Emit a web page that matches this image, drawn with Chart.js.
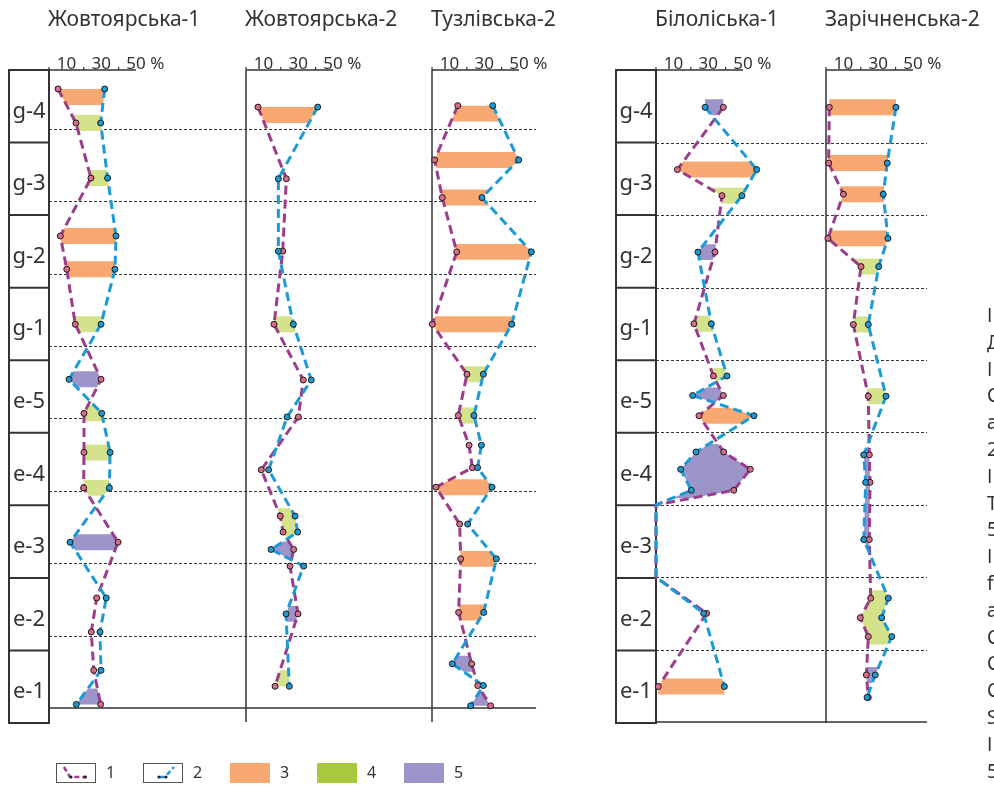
<!DOCTYPE html>
<html>
<head>
<meta charset="utf-8">
<script src="https://cdn.jsdelivr.net/npm/chart.js@4.4.1/dist/chart.umd.min.js"></script>
<style>
  html, body { margin: 0; padding: 0; background: #fff; }
  body { width: 994px; height: 787px; overflow: hidden; position: relative;
         font-family: "Noto Sans", "Open Sans", sans-serif; color: #333; }
  #chart { position: absolute; left: 0; top: 0; }
  .title { position: absolute; top: 8px; font-size: 21px; line-height: 21px; white-space: nowrap; }
  .layer { position: absolute; width: 40px; font-size: 22px; line-height: 22px; text-align: center; white-space: nowrap; }
  .legend-box { position: absolute; top: 763px; width: 40px; height: 20px; box-sizing: border-box; }
  .legend-box.framed { border: 1px solid #555; }
  .legend-text { position: absolute; top: 764px; font-size: 16px; line-height: 16px; }
  .caption { position: absolute; left: 987px; top: 302px; font-size: 19px; line-height: 26.8px; white-space: pre; }
</style>
</head>
<body>
<canvas id="chart" width="994" height="787"></canvas>
<div class="caption">І
Д
І
С
а
2
І
Т
5
І
f
а
С
С
С
S
І
5</div>
<script>
// ---------------- data ----------------
// Layers of the section, top to bottom
const layers = ['g-4', 'g-3', 'g-2', 'g-1', 'e-5', 'e-4', 'e-3', 'e-2', 'e-1'];
const axisLabels = [10, 30, 50];
const axisMinor = [0, 20, 40];
const legendKeys = ['1', '2', '3', '4', '5'];

// Sample level = height above the base of layer e-1, in layer thicknesses.
// Series 1 and 2 are percentages; fills are [first sample, last sample, class 3|4|5].

// Жовтоярська-1
const zh1Levels  = [8.55, 8.08, 7.32, 6.52, 6.06, 5.30, 4.54, 4.07, 3.53, 3.04, 2.29, 1.52, 1.05, 0.52, 0.05];
const zh1Series1 = [5.2, 15.5, 24.1, 6.5, 10.2, 15.1, 29.9, 20.1, 20.1, 19.9, 39.7, 27.4, 24.3, 25.7, 29.7];
const zh1Series2 = [32.0, 29.7, 33.7, 38.5, 37.9, 29.9, 11.5, 30.3, 35.1, 34.7, 12.1, 32.9, 29.3, 29.9, 15.7];
const zh1Fills   = [[0,0,3],[1,1,4],[2,2,4],[3,3,3],[4,4,3],[5,5,4],[6,6,5],[7,7,4],[8,8,4],[9,9,4],[10,10,5],[14,14,5]];

// Жовтоярська-2
const zh2Levels  = [8.30, 7.31, 6.31, 5.30, 4.53, 4.02, 3.29, 2.65, 2.43, 2.19, 1.96, 1.30, 0.30];
const zh2Series1 = [6.9, 23.2, 21.1, 16.1, 32.9, 30.1, 8.8, 19.7, 21.3, 27.4, 25.3, 29.9, 16.7];
const zh2Series2 = [41.2, 18.6, 18.6, 27.2, 37.5, 23.6, 13.0, 28.2, 29.7, 14.4, 33.1, 23.0, 24.9];
const zh2Fills   = [[0,0,3],[3,3,4],[7,7,4],[8,8,4],[9,9,5],[11,11,5],[12,12,4]];

// Тузлівська-2
const tz2Levels  = [8.32, 7.57, 7.05, 6.30, 5.30, 4.61, 4.04, 3.63, 3.32, 3.05, 2.54, 2.06, 1.32, 0.61, 0.31, 0.03];
const tz2Series1 = [14.8, 1.5, 5.9, 14.2, 0.2, 20.1, 15.1, 21.3, 23.2, 2.3, 15.9, 16.5, 15.3, 22.8, 26.3, 33.7];
const tz2Series2 = [34.9, 49.8, 28.7, 57.1, 45.8, 29.5, 24.1, 28.4, 26.2, 34.5, 20.5, 37.0, 29.7, 11.7, 29.5, 22.2];
const tz2Fills   = [[0,0,3],[1,1,3],[2,2,3],[3,3,3],[4,4,3],[5,5,4],[6,6,4],[9,9,3],[11,11,3],[12,12,3],[13,13,5],[15,15,5]];

// Білоліська-1
const bl1Levels  = [8.49, 7.63, 7.27, 6.49, 5.50, 4.78, 4.51, 4.23, 3.73, 3.49, 3.20, 3.00, 2.00, 1.50, 0.49];
const bl1Series1 = [38.7, 12.3, 37.9, 33.9, 21.8, 33.0, 38.7, 24.7, 38.9, 54.2, 44.7, 0, 0, 29.1, 1.3];
const bl1Series2 = [28.2, 57.9, 49.4, 24.1, 31.8, 40.8, 21.1, 56.3, 23.0, 14.2, 20.3, 0, 0, 27.4, 39.3];
const bl1Fills   = [[0,0,5],[1,1,3],[2,2,4],[3,3,5],[4,4,4],[5,5,4],[6,6,5],[7,7,3],[8,10,5],[14,14,3]];

// Зарічненська-2
const zr2Levels  = [8.49, 7.72, 7.29, 6.68, 6.29, 5.49, 4.50, 3.69, 3.31, 2.52, 1.71, 1.44, 1.18, 0.65, 0.34];
const zr2Series1 = [1.9, 1.5, 10.0, 1.1, 20.1, 15.7, 24.3, 24.9, 25.3, 24.9, 25.7, 19.7, 24.3, 23.2, 24.3];
const zr2Series2 = [40.2, 35.2, 32.9, 35.6, 30.3, 24.3, 34.5, 21.7, 22.8, 21.7, 35.8, 32.0, 37.8, 28.3, 23.6];
const zr2Fills   = [[0,0,3],[1,1,3],[2,2,3],[3,3,3],[4,4,4],[5,5,4],[6,6,4],[7,9,5],[10,12,4],[13,13,5]];

// ---------------- layout & style ----------------
const W = 994, H = 787;
const PCT_PX = 1.74;     // pixels per percent
const LAYER_PX = 72.4;   // pixels per layer
const BAND = 0.11;       // half height of a fraction band, in layers
const INK = '#333333';
const LINE1 = '#9c3d8c', DOT1 = '#dc6b8a';
const LINE2 = '#1c9ad6', DOT2 = '#1c9ad6';
const FILL = { 3: '#f8a872', 4: '#d4e28b', 5: '#9d95c9' };
const LEGEND_FILL = { 3: '#f8a872', 4: '#a9c93c', 5: '#9d95c9' };

const groups = {
  g1: { column: 9,   top: 70, base: 708, axisEnd: 722, columnBottom: 723, rightPct: 59.8, keepInside: true },
  g2: { column: 616, top: 70, base: 722, axisEnd: 723, columnBottom: 723, rightPct: 58,   keepInside: false }
};

const panels = [
  { key: 'zh1', title: 'Жовтоярська-1', x0: 49,  group: 'g1', levels: zh1Levels, s1: zh1Series1, s2: zh1Series2, fills: zh1Fills },
  { key: 'zh2', title: 'Жовтоярська-2', x0: 246, group: 'g1', levels: zh2Levels, s1: zh2Series1, s2: zh2Series2, fills: zh2Fills },
  { key: 'tz2', title: 'Тузлівська-2',  x0: 432, group: 'g1', levels: tz2Levels, s1: tz2Series1, s2: tz2Series2, fills: tz2Fills },
  { key: 'bl1', title: 'Білоліська-1',  x0: 656, group: 'g2', levels: bl1Levels, s1: bl1Series1, s2: bl1Series2, fills: bl1Fills },
  { key: 'zr2', title: 'Зарічненська-2', x0: 826, group: 'g2', levels: zr2Levels, s1: zr2Series1, s2: zr2Series2, fills: zr2Fills }
];

// x of a dashed series at a given level (levels run top to bottom)
function seriesAt(levels, vals, y) {
  const n = levels.length;
  if (y >= levels[0]) return vals[0];
  if (y <= levels[n - 1]) return vals[n - 1];
  for (let i = 0; i < n - 1; i++) {
    const a = levels[i], b = levels[i + 1];
    if (y <= a && y >= b) {
      const t = a === b ? 0 : (a - y) / (a - b);
      return vals[i] + (vals[i + 1] - vals[i]) * t;
    }
  }
  return vals[n - 1];
}

// outline of a fraction band between the two series
function bandOutline(levels, s1, s2, first, last, keepInside) {
  let top = levels[first] + BAND, bot = levels[last] - BAND;
  if (keepInside) {
    const hi = levels[0], lo = levels[levels.length - 1];
    if (top > hi) { bot -= top - hi; top = hi; }
    if (bot < lo) { top += lo - bot; bot = lo; }
  }
  const ys = [top].concat(levels.filter(v => v < top && v > bot), [bot]);
  const left = ys.map(y => ({ x: seriesAt(levels, s1, y), y }));
  const right = ys.slice().reverse().map(y => ({ x: seriesAt(levels, s2, y), y }));
  return left.concat(right);
}

const scales = {};
panels.forEach(p => {
  scales['x_' + p.key] = { type: 'linear', display: false, bounds: 'data', min: -p.x0 / PCT_PX, max: (W - p.x0) / PCT_PX };
});
Object.entries(groups).forEach(([id, g]) => {
  scales['y_' + id] = { type: 'linear', display: false, bounds: 'data', min: (g.base - H) / LAYER_PX, max: g.base / LAYER_PX };
});

const datasets = [];
panels.forEach(p => {
  const xAxisID = 'x_' + p.key, yAxisID = 'y_' + p.group;
  const keep = groups[p.group].keepInside;
  p.fills.forEach(([a, b, cls]) => {
    datasets.push({
      data: bandOutline(p.levels, p.s1, p.s2, a, b, keep), xAxisID, yAxisID,
      fill: 'shape', backgroundColor: FILL[cls], borderColor: 'rgba(0,0,0,0)', borderWidth: 0,
      pointRadius: 0, tension: 0, order: 4
    });
  });
  const pts1 = p.levels.map((y, i) => ({ x: p.s1[i], y }));
  const pts2 = p.levels.map((y, i) => ({ x: p.s2[i], y }));
  const lineStyle = { fill: false, borderWidth: 3, borderDash: [9, 5], borderCapStyle: 'butt', pointRadius: 0, tension: 0 };
  datasets.push(Object.assign({ data: pts1, xAxisID, yAxisID, borderColor: LINE1, order: 3 }, lineStyle));
  datasets.push(Object.assign({ data: pts2, xAxisID, yAxisID, borderColor: LINE2, order: 2 }, lineStyle));
  const dot = { showLine: false, pointRadius: c => (c.raw && c.raw.x === 0 ? 0 : 3), pointBorderColor: '#1a1a1a', pointBorderWidth: 1 };
  datasets.push(Object.assign({ data: pts1, xAxisID, yAxisID, pointBackgroundColor: DOT1, order: 1 }, dot));
  datasets.push(Object.assign({ data: pts2, xAxisID, yAxisID, pointBackgroundColor: DOT2, order: 0 }, dot));
});

function seg(ctx, x1, y1, x2, y2) { ctx.beginPath(); ctx.moveTo(x1, y1); ctx.lineTo(x2, y2); ctx.stroke(); }

// column of layers, panel axes, layer boundaries and percentage axes
const framePlugin = {
  id: 'frame',
  beforeDatasetsDraw(chart) {
    const ctx = chart.ctx;
    ctx.save();
    ctx.strokeStyle = INK;
    ctx.fillStyle = INK;
    Object.entries(groups).forEach(([id, g]) => {
      const ys = chart.scales['y_' + id];
      const gp = panels.filter(p => p.group === id);
      const left = chart.scales['x_' + gp[0].key].getPixelForValue(0);
      const right = chart.scales['x_' + gp[gp.length - 1].key].getPixelForValue(g.rightPct);
      // layer boundaries
      ctx.lineWidth = 1;
      ctx.setLineDash([3, 2]);
      for (let k = 1; k < layers.length; k++) {
        const y = Math.round(ys.getPixelForValue(k)) + 0.5;
        seg(ctx, left, y, right, y);
      }
      ctx.setLineDash([]);
      ctx.lineWidth = 1.5;
      const yb = ys.getPixelForValue(0);
      seg(ctx, left, yb, right, yb);
      // column of layer names
      ctx.lineWidth = 2;
      ctx.strokeRect(g.column, g.top, left - g.column, g.columnBottom - g.top);
      const step = (g.columnBottom - g.top) / layers.length;
      for (let k = 1; k < layers.length; k++) seg(ctx, g.column, g.top + k * step, left, g.top + k * step);
      // panel axes
      gp.forEach(p => {
        const xs = chart.scales['x_' + p.key];
        const x0 = xs.getPixelForValue(0);
        ctx.lineWidth = 1.5;
        seg(ctx, x0, g.top, x0, g.axisEnd);
        seg(ctx, x0, g.top, xs.getPixelForValue(50), g.top);
        ctx.lineWidth = 1.2;
        axisMinor.forEach(v => { const x = xs.getPixelForValue(v); seg(ctx, x, g.top - 3, x, g.top); });
        ctx.font = '17px "Noto Sans", "Open Sans", sans-serif';
        ctx.textBaseline = 'alphabetic';
        axisLabels.forEach((v, i) => {
          const x = xs.getPixelForValue(v);
          const s = String(v);
          if (i === axisLabels.length - 1) {
            ctx.textAlign = 'left';
            ctx.fillText(s + ' %', x - ctx.measureText(s).width / 2, g.top - 1);
          } else {
            ctx.textAlign = 'center';
            ctx.fillText(s, x, g.top - 1);
          }
        });
      });
    });
    ctx.restore();
  }
};

const chart = new Chart(document.getElementById('chart'), {
  type: 'line',
  data: { datasets },
  options: {
    responsive: false, animation: false, events: [],
    layout: { padding: 0, autoPadding: false },
    plugins: { legend: { display: false }, tooltip: { enabled: false }, title: { display: false } },
    scales
  },
  plugins: [framePlugin]
});

// titles, layer names and legend as page text
function addDiv(cls, text, left, top, css) {
  const d = document.createElement('div');
  d.className = cls;
  if (text !== null) d.textContent = text;
  d.style.left = left + 'px';
  if (top !== null) d.style.top = top + 'px';
  if (css) Object.assign(d.style, css);
  document.body.appendChild(d);
  return d;
}
panels.forEach(p => {
  const x = chart.scales['x_' + p.key].getPixelForValue(0);
  addDiv('title', p.title, Math.round(x) - 1, null);
});
Object.values(groups).forEach(g => {
  const step = (g.columnBottom - g.top) / layers.length;
  layers.forEach((name, k) => {
    const c = g.top + (k + 0.5) * step;
    addDiv('layer', name, g.column, Math.round(c - 8.5));
  });
});

// legend
const legendX = [56, 143, 230, 317, 404];
legendKeys.forEach((k, i) => {
  const x = legendX[i];
  if (k === '1' || k === '2') {
    const box = addDiv('legend-box framed', null, x, null);
    const svgNS = 'http://www.w3.org/2000/svg';
    const svg = document.createElementNS(svgNS, 'svg');
    svg.setAttribute('width', '38'); svg.setAttribute('height', '18');
    svg.style.position = 'absolute'; svg.style.left = '0'; svg.style.top = '0';
    const path = document.createElementNS(svgNS, 'polyline');
    const color = k === '1' ? LINE1 : LINE2;
    path.setAttribute('points', k === '1' ? '7,3 13,13 30,13' : '16,13 21,13 30,3');
    path.setAttribute('fill', 'none');
    path.setAttribute('stroke', color);
    path.setAttribute('stroke-width', '2.5');
    path.setAttribute('stroke-dasharray', '5,3');
    svg.appendChild(path);
    const dots = k === '1' ? [[14, 13], [28, 13]] : [[15, 13], [22, 13]];
    dots.forEach(([cx, cy]) => {
      const c = document.createElementNS(svgNS, 'circle');
      c.setAttribute('cx', cx); c.setAttribute('cy', cy); c.setAttribute('r', '1.6');
      c.setAttribute('fill', '#222');
      svg.appendChild(c);
    });
    box.appendChild(svg);
  } else {
    addDiv('legend-box', null, x, null, { background: LEGEND_FILL[k] });
  }
  addDiv('legend-text', k, x + 50, null);
});
</script>
</body>
</html>
